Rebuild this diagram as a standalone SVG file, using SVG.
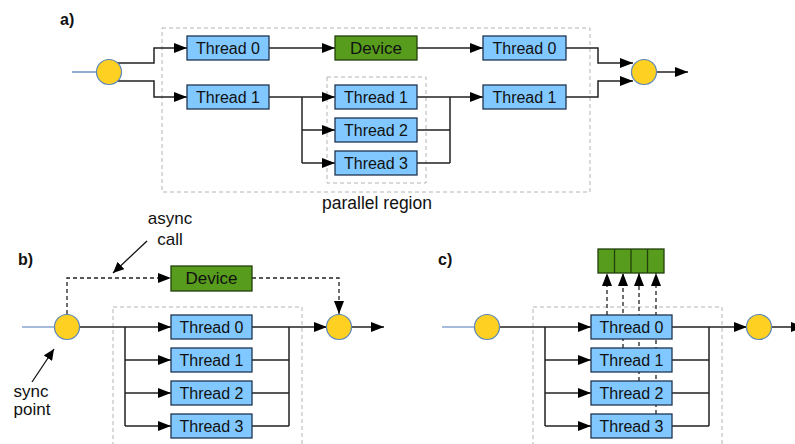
<svg xmlns="http://www.w3.org/2000/svg" width="795" height="444" viewBox="0 0 795 444">
<style>
.thr{fill:#80c8ff;stroke:#1f3550;stroke-width:1.3}
.dev{fill:#579c1d;stroke:#23400c;stroke-width:1.3}
.sync{fill:#fdd022;stroke:#5b86b8;stroke-width:1.2}
.t{font-family:"Liberation Sans",Arial,sans-serif;font-size:16px;fill:#111;text-anchor:middle}
.n{font-family:"Liberation Sans",Arial,sans-serif;font-size:17px;fill:#111;text-anchor:middle}
.lab{font-family:"Liberation Sans",Arial,sans-serif;font-size:16px;font-weight:bold;fill:#111}
.reg{fill:none;stroke:#b4b4b4;stroke-width:1;stroke-dasharray:4,3}
.c{fill:none;stroke:#222;stroke-width:1.5}
.ca{fill:none;stroke:#222;stroke-width:1.5;marker-end:url(#ah)}
.d{fill:none;stroke:#222;stroke-width:1.3;stroke-dasharray:4,3}
.da{fill:none;stroke:#222;stroke-width:1.3;stroke-dasharray:4,3;marker-end:url(#ah)}
.blue{fill:none;stroke:#4a78b8;stroke-width:1.2}
.ann{fill:none;stroke:#111;stroke-width:1.3;marker-end:url(#ah2)}
</style>
<defs>
<marker id="ah" markerUnits="userSpaceOnUse" markerWidth="14" markerHeight="10" refX="13" refY="5" orient="auto"><path d="M0,0 L13,5 L0,10 z" fill="#000"/></marker>
<marker id="ah2" markerUnits="userSpaceOnUse" markerWidth="12" markerHeight="10" refX="11" refY="5" orient="auto"><path d="M0,0 L11,5 L0,10 z" fill="#000"/></marker>
</defs>

<!-- ===== a) ===== -->
<text class="lab" x="60" y="25">a)</text>
<rect class="reg" x="162" y="28" width="428" height="164"/>
<rect class="reg" x="327" y="77" width="99" height="106"/>
<text class="n" x="377" y="209" style="font-size:17.5px">parallel region</text>

<g id="connectors-a">
<path class="blue" d="M72,72 H96"/>
<path class="ca" d="M117,63 H154 V48 H187"/>
<path class="ca" d="M117,81 H154 V97 H187"/>
<path class="ca" d="M269,48 H335"/>
<path class="ca" d="M417,48 H483"/>
<path class="ca" d="M269,97 H335"/>
<path class="c" d="M302,97 V163"/>
<path class="ca" d="M302,130 H335"/>
<path class="ca" d="M302,163 H335"/>
<path class="ca" d="M417,97 H483"/>
<path class="c" d="M417,130 H450 M417,163 H450 M450,97 V163"/>
<path class="ca" d="M566,48 H598 V63 H633"/>
<path class="ca" d="M566,97 H598 V81 H633"/>
<path class="ca" d="M656,72 H688"/>
</g>

<g id="a-sync-in"><circle class="sync" cx="109" cy="72" r="12.5"/></g>
<g id="a-thread0"><rect class="thr" x="187" y="36" width="82" height="24"/><text class="t" x="228" y="54">Thread 0</text></g>
<g id="a-thread1"><rect class="thr" x="187" y="85" width="82" height="24"/><text class="t" x="228" y="103">Thread 1</text></g>
<g id="a-device"><rect class="dev" x="335" y="36" width="82" height="24"/><text class="t" x="376" y="54" style="font-size:17px">Device</text></g>
<g id="a-inner-thread1"><rect class="thr" x="335" y="85" width="82" height="24"/><text class="t" x="376" y="103">Thread 1</text></g>
<g id="a-inner-thread2"><rect class="thr" x="335" y="118" width="82" height="24"/><text class="t" x="376" y="136">Thread 2</text></g>
<g id="a-inner-thread3"><rect class="thr" x="335" y="151" width="82" height="24"/><text class="t" x="376" y="169">Thread 3</text></g>
<g id="a-out-thread0"><rect class="thr" x="483" y="36" width="83" height="24"/><text class="t" x="524.5" y="54">Thread 0</text></g>
<g id="a-out-thread1"><rect class="thr" x="483" y="85" width="83" height="24"/><text class="t" x="524.5" y="103">Thread 1</text></g>
<g id="a-sync-out"><circle class="sync" cx="644" cy="72" r="12.5"/></g>

<!-- ===== b) ===== -->
<text class="lab" x="18" y="265">b)</text>
<rect class="reg" x="113" y="307" width="189" height="150"/>
<text class="n" x="170" y="224">async</text>
<text class="n" x="170" y="245">call</text>
<text class="n" x="31" y="397">sync</text>
<text class="n" x="32" y="415">point</text>

<g id="connectors-b">
<path class="blue" d="M22,327 H55"/>
<path class="c" d="M80,327 H125 M125,327 V426"/>
<path class="ca" d="M125,327 H171"/>
<path class="ca" d="M125,360 H171"/>
<path class="ca" d="M125,393 H171"/>
<path class="ca" d="M125,426 H171"/>
<path class="c" d="M252,327 H289 M252,360 H289 M252,393 H289 M252,426 H289 M289,327 V426"/>
<path class="ca" d="M289,327 H327"/>
<path class="ca" d="M352,327 H384"/>
<path class="da" d="M67,314 V278 H171"/>
<path class="da" d="M252,278 H339 V314"/>
<path class="ann" d="M147,241 L113,273"/>
<path class="ann" d="M32,382 L54,349"/>
</g>

<g id="b-sync-in"><circle class="sync" cx="67" cy="327" r="12.5"/></g>
<g id="b-device"><rect class="dev" x="171" y="266" width="81" height="25"/><text class="t" x="211.5" y="284" style="font-size:17px">Device</text></g>
<g id="b-thread0"><rect class="thr" x="171" y="315" width="81" height="24"/><text class="t" x="211.5" y="333">Thread 0</text></g>
<g id="b-thread1"><rect class="thr" x="171" y="348" width="81" height="24"/><text class="t" x="211.5" y="366">Thread 1</text></g>
<g id="b-thread2"><rect class="thr" x="171" y="381" width="81" height="24"/><text class="t" x="211.5" y="399">Thread 2</text></g>
<g id="b-thread3"><rect class="thr" x="171" y="414" width="81" height="24"/><text class="t" x="211.5" y="432">Thread 3</text></g>
<g id="b-sync-out"><circle class="sync" cx="339" cy="327" r="12.5"/></g>

<!-- ===== c) ===== -->
<text class="lab" x="438" y="265">c)</text>
<rect class="reg" x="533" y="307" width="189" height="150"/>

<g id="connectors-c">
<path class="blue" d="M442,327 H475"/>
<path class="c" d="M500,327 H545 M545,327 V426"/>
<path class="ca" d="M545,327 H591"/>
<path class="ca" d="M545,360 H591"/>
<path class="ca" d="M545,393 H591"/>
<path class="ca" d="M545,426 H591"/>
<path class="c" d="M672,327 H709 M672,360 H709 M672,393 H709 M672,426 H709 M709,327 V426"/>
<path class="ca" d="M709,327 H747"/>
<path class="ca" d="M772,327 H804"/>
<path class="da" d="M607,315 V273"/>
<path class="da" d="M623,348 V273"/>
<path class="da" d="M639,381 V273"/>
<path class="da" d="M656,414 V273"/>
</g>

<g id="c-queue">
<rect class="dev" x="598" y="249" width="66" height="24"/>
<path d="M614.5,249 V273 M631,249 V273 M647.5,249 V273" stroke="#23400c" stroke-width="1.3"/>
</g>
<g id="c-sync-in"><circle class="sync" cx="487" cy="327" r="12.5"/></g>
<g id="c-thread0"><rect class="thr" x="591" y="315" width="81" height="24"/><text class="t" x="631.5" y="333">Thread 0</text></g>
<g id="c-thread1"><rect class="thr" x="591" y="348" width="81" height="24"/><text class="t" x="631.5" y="366">Thread 1</text></g>
<g id="c-thread2"><rect class="thr" x="591" y="381" width="81" height="24"/><text class="t" x="631.5" y="399">Thread 2</text></g>
<g id="c-thread3"><rect class="thr" x="591" y="414" width="81" height="24"/><text class="t" x="631.5" y="432">Thread 3</text></g>
<g id="c-sync-out"><circle class="sync" cx="759" cy="327" r="12.5"/></g>
</svg>
